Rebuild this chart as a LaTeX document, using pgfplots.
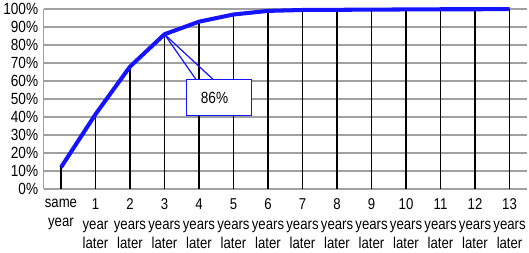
\documentclass[border=0pt]{standalone}
\usepackage{pgfplots}
\pgfplotsset{compat=1.18}
\usepackage{fontspec}
\setmainfont{Liberation Sans}
\newfontfamily\narrowfont[FakeStretch=0.84]{Liberation Sans}
\definecolor{gridgray}{RGB}{160,160,160}
\definecolor{lineblue}{RGB}{20,20,255}
\begin{document}
\begin{tikzpicture}[x=1pt,y=1pt]
\begin{axis}[
  scale only axis,
  width=478pt, height=178pt,
  xmin=-0.5, xmax=13.5, ymin=0, ymax=100,
  axis lines*=left,
  axis line style={gridgray, line width=1.5pt, -},
  xtick={0,...,13},
  xticklabels={{same\\year},{1\\year\\later},{2\\years\\later},{3\\years\\later},{4\\years\\later},{5\\years\\later},{6\\years\\later},{7\\years\\later},{8\\years\\later},{9\\years\\later},{10\\years\\later},{11\\years\\later},{12\\years\\later},{13\\years\\later}},
  xticklabel style={align=center, font=\narrowfont\fontsize{15.5}{19.5}\selectfont, yshift=-6pt},
  xtick style={draw=none},
  ytick={0,10,...,100},
  yticklabel={\pgfmathprintnumber{\tick}\%},
  yticklabel style={font=\narrowfont\fontsize{16}{19}\selectfont, xshift=-2pt},
  /pgf/number format/assume math mode=true,
  ytick style={draw=none},
  ymajorgrids,
  major grid style={gridgray, line width=1.5pt},
  clip=false,
]
\addplot[ycomb, black, line width=1.5pt, mark=none] coordinates {
(0,12) (1,41.5) (2,68) (3,86) (4,93) (5,97) (6,99) (7,99.5) (8,99.6) (9,99.7) (10,99.8) (11,99.9) (12,99.9) (13,100)};
\addplot[lineblue, line width=4pt, mark=none, line join=round] coordinates {
(0,12) (1,41.5) (2,68) (3,86) (4,93) (5,97) (6,99) (7,99.5) (8,99.6) (9,99.7) (10,99.8) (11,99.9) (12,99.9) (13,100)};
\draw[lineblue, line width=1.2pt, fill=white] (axis cs:3.63,60.7) rectangle (axis cs:5.53,41);
\draw[lineblue, line width=1.2pt] (axis cs:3,86) -- (axis cs:3.92,60.7);
\draw[lineblue, line width=1.2pt] (axis cs:3,86) -- (axis cs:4.42,60.7);
\node[font=\narrowfont\fontsize{16}{19}\selectfont] at (axis cs:4.45,50.5) {86\%};
\end{axis}
\end{tikzpicture}
\end{document}
